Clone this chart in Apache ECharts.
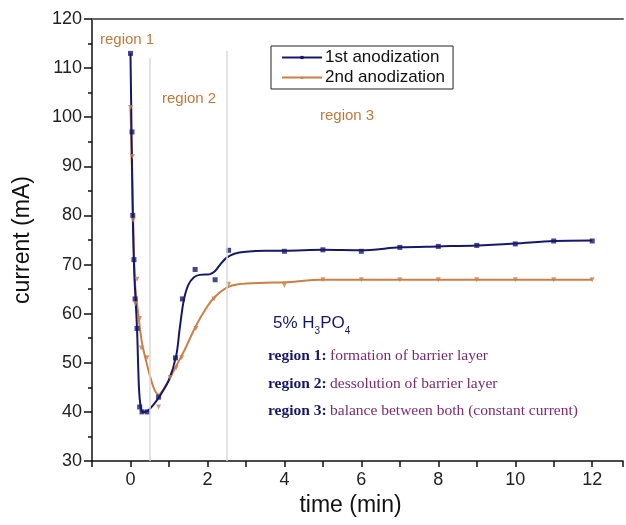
<!doctype html>
<html lang="en">
<head>
  <meta charset="utf-8">
  <script src="https://cdn.jsdelivr.net/npm/echarts@6/dist/echarts.min.js"></script>
  <style>
    html, body { margin: 0; padding: 0; background: #fff; }
    #chart { width: 626px; height: 525px; }
  </style>
</head>
<body>
  <div id="chart"></div>
  <script>
    // measured points [time (min), current (mA)]
    var firstPoints = [[0, 113], [0.04, 97], [0.06, 80], [0.09, 71], [0.12, 63], [0.17, 57], [0.24, 41],
      [0.3, 40], [0.44, 40], [0.73, 43], [1.17, 51], [1.35, 63], [1.68, 69], [2.2, 66.9], [2.55, 72.9],
      [4, 72.7], [5, 73], [6, 72.7], [7, 73.5], [8, 73.7], [9, 73.9], [10, 74.2], [11, 74.8], [12, 74.8]];
    var secondPoints = [[0, 102], [0.05, 92], [0.07, 79], [0.13, 62], [0.17, 67], [0.24, 59], [0.28, 53],
      [0.43, 51], [0.73, 41], [1.03, 47], [1.19, 49], [1.33, 51], [1.7, 57], [2.17, 63], [2.55, 66],
      [4, 65.8], [5, 66.9], [6, 66.9], [7, 66.9], [8, 66.9], [9, 66.9], [10, 66.9], [11, 66.9], [12, 66.9]];

    // fitted curves
    var firstFit = [[0, 113], [0.06, 80], [0.1, 68], [0.17, 57], [0.22, 45], [0.27, 40.8], [0.33, 40],
      [0.45, 40.2], [0.6, 41.5], [0.76, 43.2], [1.0, 46.5], [1.19, 51.5], [1.28, 57], [1.38, 62.5],
      [1.5, 65.8], [1.65, 67.4], [1.8, 67.9], [2.05, 68], [2.2, 68.7], [2.35, 70.2], [2.5, 71.4],
      [2.7, 72.2], [3, 72.6], [3.5, 72.8], [4, 72.8], [5, 73], [6, 72.9], [7, 73.5], [8, 73.7],
      [9, 73.9], [10, 74.3], [11, 74.8], [12, 74.9]];
    var secondFit = [[0, 102], [0.07, 79], [0.12, 66], [0.2, 60], [0.3, 54], [0.45, 49], [0.6, 45],
      [0.73, 43.5], [0.85, 44.5], [1.0, 46.5], [1.2, 49.5], [1.4, 52.5], [1.7, 57.5], [2.0, 61.5],
      [2.2, 63.5], [2.5, 65.3], [2.8, 66], [3.5, 66.3], [4, 66.4], [5, 66.9], [12, 66.9]];

    var seriesNames = ['1st anodization', '2nd anodization'];
    var regionBounds = [[0.5, 112], [2.5, 113.5]];

    var navy = '#16186e';
    var orange = '#cd7f45';
    var sans = 'Liberation Sans, Arial, sans-serif';
    var serif = 'Liberation Serif, Times New Roman, serif';

    var chart = echarts.init(document.getElementById('chart'));

    var option = {
      animation: false,
      backgroundColor: '#fff',
      grid: { left: 92, right: 0, top: 19, bottom: 64 },
      legend: {
        orient: 'vertical',
        left: 271,
        top: 46,
        data: seriesNames,
        borderColor: '#222',
        borderWidth: 1,
        borderRadius: 0,
        padding: [3, 8, 3, 10],
        itemGap: 3,
        itemWidth: 40,
        itemHeight: 4,
        textStyle: { fontFamily: sans, fontSize: 17, color: '#111', padding: [0, 0, 0, -2] }
      },
      xAxis: [{
        type: 'value',
        min: -1,
        max: 12.8,
        interval: 1,
        name: 'time (min)',
        nameLocation: 'middle',
        nameGap: 33,
        nameTextStyle: { fontFamily: sans, fontSize: 23, color: '#111', padding: [0, 14, 0, 0] },
        splitLine: { show: false },
        axisLine: { onZero: false, lineStyle: { color: '#111', width: 1.5 } },
        axisTick: { length: 6, lineStyle: { color: '#111', width: 1.5 } },
        axisLabel: {
          margin: 10,
          fontFamily: sans, fontSize: 18, color: '#222',
          formatter: function (v) { return (v % 2 === 0) ? String(v) : ''; }
        }
      }, {
        type: 'value',
        position: 'top',
        min: -1,
        max: 12.8,
        axisLine: { onZero: false, lineStyle: { color: '#666', width: 2 } },
        axisTick: { show: false },
        axisLabel: { show: false },
        splitLine: { show: false }
      }],
      yAxis: {
        type: 'value',
        min: 30,
        max: 120,
        interval: 10,
        name: 'current (mA)',
        nameLocation: 'middle',
        nameGap: 58,
        nameTextStyle: { fontFamily: sans, fontSize: 23, color: '#111' },
        splitLine: { show: false },
        axisLine: { show: true, onZero: false, lineStyle: { color: '#111', width: 1.5 } },
        axisTick: { length: 8, lineStyle: { color: '#111', width: 1.5 } },
        minorTick: { show: true, splitNumber: 2, length: 4, lineStyle: { color: '#111', width: 1.5 } },
        axisLabel: { margin: 10, fontFamily: sans, fontSize: 18, color: '#222' }
      },
      series: [{
        name: seriesNames[0],
        type: 'line',
        data: firstFit,
        smooth: 0.3,
        symbol: 'rect',
        symbolSize: 4,
        showSymbol: false,
        lineStyle: { color: navy, width: 2 },
        itemStyle: { color: navy },
        z: 3,
        markLine: {
          silent: true,
          symbol: 'none',
          label: { show: false },
          lineStyle: { color: '#d8d8d8', width: 1.5, type: 'solid' },
          data: regionBounds.map(function (b) {
            return [{ coord: [b[0], 30] }, { coord: [b[0], b[1]] }];
          })
        }
      }, {
        name: seriesNames[1],
        type: 'line',
        data: secondFit,
        smooth: 0.3,
        symbol: 'triangle',
        symbolSize: 4,
        showSymbol: false,
        lineStyle: { color: orange, width: 2 },
        itemStyle: { color: orange },
        z: 2
      }, {
        name: seriesNames[0],
        type: 'scatter',
        data: firstPoints,
        symbol: 'rect',
        symbolSize: 5,
        itemStyle: { color: navy },
        z: 4
      }, {
        name: seriesNames[1],
        type: 'scatter',
        data: secondPoints,
        symbol: 'triangle',
        symbolRotate: 180,
        symbolSize: 5,
        itemStyle: { color: orange },
        z: 4
      }],
      graphic: [
        { type: 'text', left: 100, top: 32, style: { text: 'region 1', fontFamily: sans, fontSize: 15, fill: '#c0783c' } },
        { type: 'text', left: 162, top: 91, style: { text: 'region 2', fontFamily: sans, fontSize: 15, fill: '#c0783c' } },
        { type: 'text', left: 320, top: 108, style: { text: 'region 3', fontFamily: sans, fontSize: 15, fill: '#c0783c' } },
        {
          type: 'text', left: 273, top: 315,
          style: {
            text: '{a|5% H}{s|3}{a|PO}{s|4}',
            rich: {
              a: { fontFamily: sans, fontSize: 17, fill: navy, verticalAlign: 'bottom' },
              s: { fontFamily: sans, fontSize: 10, fill: navy, verticalAlign: 'bottom', padding: [0, 0, -4, 0] }
            }
          }
        },
        {
          type: 'text', left: 268, top: 348,
          style: {
            text: '{b|region 1:} {t|formation of barrier layer}\n{b|region 2:} {t|dessolution of barrier layer}\n{b|region 3:} {t|balance between both (constant current)}',
            rich: {
              b: { fontFamily: serif, fontSize: 15.5, fontWeight: 'bold', fill: navy, lineHeight: 27.5 },
              t: { fontFamily: serif, fontSize: 15.5, fill: '#7a2a72', lineHeight: 27.5 }
            }
          }
        }
      ]
    };

    chart.setOption(option);
  </script>
</body>
</html>
